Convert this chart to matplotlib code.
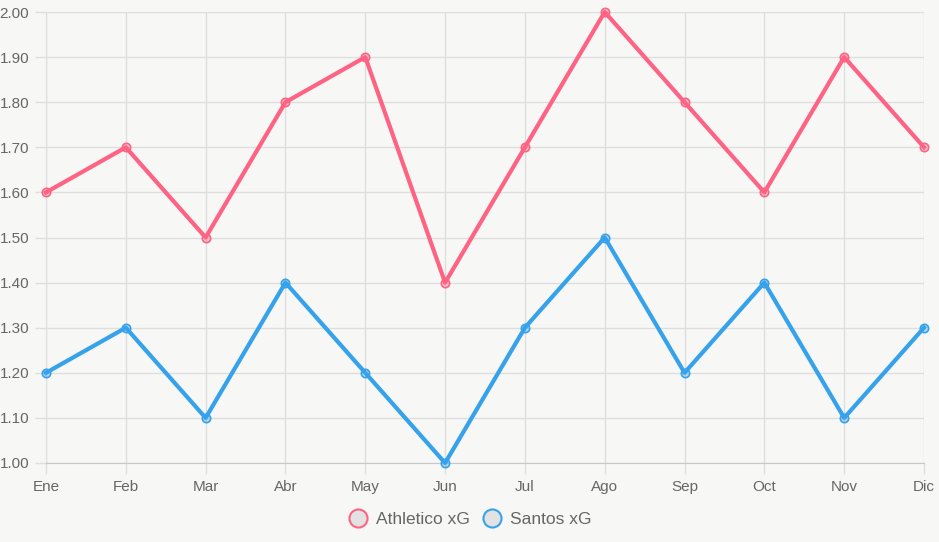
import matplotlib.pyplot as plt
from matplotlib.lines import Line2D

# Datos
meses = ['Ene', 'Feb', 'Mar', 'Abr', 'May', 'Jun', 'Jul', 'Ago', 'Sep', 'Oct', 'Nov', 'Dic']
athletico_xg = [1.6, 1.7, 1.5, 1.8, 1.9, 1.4, 1.7, 2.0, 1.8, 1.6, 1.9, 1.7]
santos_xg = [1.2, 1.3, 1.1, 1.4, 1.2, 1.0, 1.3, 1.5, 1.2, 1.4, 1.1, 1.3]
y_ticks = [1.0, 1.1, 1.2, 1.3, 1.4, 1.5, 1.6, 1.7, 1.8, 1.9, 2.0]

rojo = '#ff6384'
azul = '#36a2eb'
fondo = '#f7f7f5'
rejilla = '#dedede'
texto = '#666666'

plt.rcParams['font.family'] = ['Liberation Sans', 'DejaVu Sans']

fig = plt.figure(figsize=(9.39, 5.42), dpi=100, facecolor=fondo)
ax = fig.add_axes([46 / 939, 79 / 542, 878 / 939, 451 / 542])
ax.set_facecolor(fondo)

x = list(range(len(meses)))
ax.plot(x, athletico_xg, color=rojo, lw=3, marker='o', ms=6,
        mfc=(1, 0.39, 0.52, 0.35), mec=rojo, mew=1.2, zorder=3, clip_on=False)
ax.plot(x, santos_xg, color=azul, lw=3, marker='o', ms=6,
        mfc=(0.21, 0.64, 0.92, 0.35), mec=azul, mew=1.2, zorder=3, clip_on=False)

ax.set_xlim(0, len(meses) - 1)
ax.set_ylim(1.0, 2.0)
ax.set_xticks(x)
ax.set_xticklabels(meses)
ax.set_yticks(y_ticks)
ax.set_yticklabels([f'{v:.2f}' for v in y_ticks])

ax.grid(True, color=rejilla, lw=1)
ax.set_axisbelow(True)
for s in ['top', 'right']:
    ax.spines[s].set_visible(False)
ax.spines['left'].set_color(rejilla)
ax.spines['bottom'].set_color('#c8c8c8')
ax.tick_params(axis='both', colors=rejilla, labelcolor=texto, labelsize=11, length=8, width=1)
ax.tick_params(axis='x', pad=4)
ax.tick_params(axis='y', pad=4)

# Leyenda
handles = [
    Line2D([], [], ls='none', marker='o', ms=13, mfc='#e2e2e2', mec=rojo, mew=1.5),
    Line2D([], [], ls='none', marker='o', ms=13, mfc='#e2e2e2', mec=azul, mew=1.5),
]
fig.legend(handles, ['Athletico xG', 'Santos xG'], loc='center', bbox_to_anchor=(0.5, 23 / 542),
           ncol=2, frameon=False, fontsize=12.5, labelcolor=texto, handletextpad=0.45,
           columnspacing=0.7, handlelength=1.2)

plt.savefig('out.png', dpi=100, facecolor=fondo)
